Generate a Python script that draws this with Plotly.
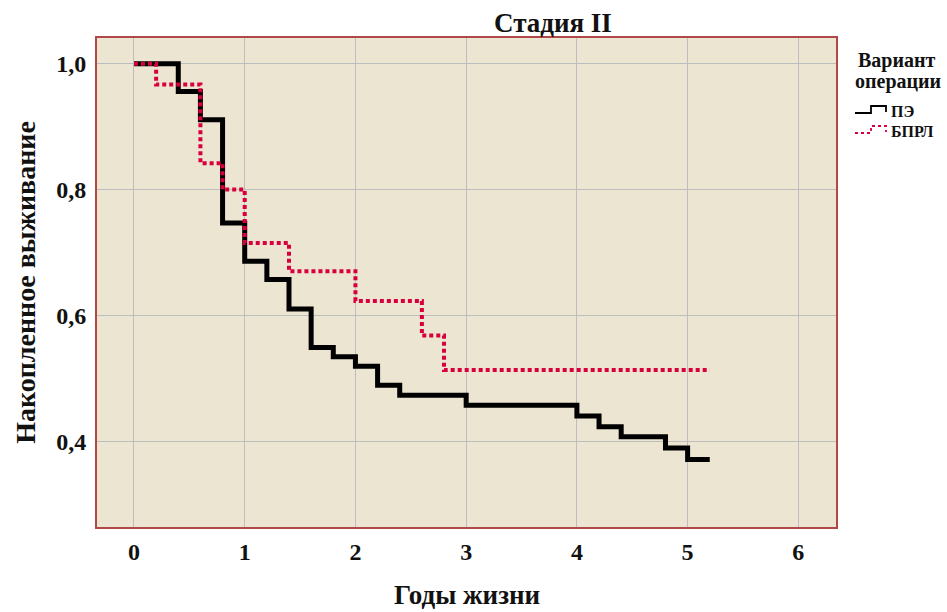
import plotly.graph_objects as go

# Kaplan-Meier data
pe_years = [0, 0.4, 0.6, 0.8, 1.0, 1.2, 1.4, 1.6, 1.8, 2.0, 2.2, 2.4, 3.0, 4.0, 4.2, 4.4, 4.8, 5.0, 5.2]
pe_surv = [1.0, 0.956, 0.911, 0.747, 0.686, 0.657, 0.610, 0.549, 0.534, 0.519, 0.489, 0.473, 0.457,
           0.440, 0.423, 0.407, 0.389, 0.371, 0.371]

bprl_years = [0, 0.2, 0.6, 0.8, 1.0, 1.4, 2.0, 2.6, 2.8, 5.2]
bprl_surv = [1.0, 0.967, 0.842, 0.800, 0.715, 0.670, 0.623, 0.568, 0.513, 0.513]

series_names = ["ПЭ", "БПРЛ"]
x_ticks = [0, 1, 2, 3, 4, 5, 6]
y_ticks = [0.4, 0.6, 0.8, 1.0]
y_tick_labels = ["0,4", "0,6", "0,8", "1,0"]

FONT = "Liberation Serif"
INK = "#111111"
BLACK = "#000000"
RED = "#D8003C"

# plot area at x 97..836, y 38..527 of the 947x612 page (body margin removed in post_script)
W, H = 947, 612
L, R, T, B = 97, 111, 38, 85
PW, PH = W - L - R, H - T - B


def px_x(px):
    return (px - L) / PW


def px_y(py):
    return (H - B - py) / PH


fig = go.Figure()
fig.add_trace(go.Scatter(x=pe_years, y=pe_surv, mode="lines", name=series_names[0], showlegend=False,
                         line=dict(color=BLACK, width=5, shape="hv")))
fig.add_trace(go.Scatter(x=bprl_years, y=bprl_surv, mode="lines", name=series_names[1], showlegend=False,
                         line=dict(color=RED, width=4, shape="hv", dash="4px,3px")))

annotations = [
    dict(text="<b>Стадия II</b>", x=px_x(553), y=px_y(23), xanchor="center", yanchor="middle",
         font=dict(family=FONT, size=27, color=INK)),
    dict(text="<b>Вариант</b>", x=px_x(897), y=px_y(61), xanchor="center", yanchor="middle",
         font=dict(family=FONT, size=20, color=INK)),
    dict(text="<b>операции</b>", x=px_x(898), y=px_y(81), xanchor="center", yanchor="middle",
         font=dict(family=FONT, size=20, color=INK)),
    dict(text="<b>Годы жизни</b>", x=px_x(467), y=px_y(595), xanchor="center", yanchor="middle",
         font=dict(family=FONT, size=27, color=INK)),
]
shapes = []
# legend: step-shaped symbols + labels
for i, (name, col, dash) in enumerate([(series_names[0], BLACK, "solid"), (series_names[1], RED, "dot")]):
    yc = 111 + 20 * i
    yb, yt = yc + 2, yc - 5
    path = (f"M {px_x(855)} {px_y(yb)} L {px_x(871)} {px_y(yb)} L {px_x(871)} {px_y(yt)} "
            f"L {px_x(886)} {px_y(yt)} L {px_x(886)} {px_y(yb - 1)}")
    shapes.append(dict(type="path", xref="paper", yref="paper", path=path,
                       line=dict(color=col, width=1.8, dash=dash)))
    annotations.append(dict(text=f"<b>{name}</b>", x=px_x(889), y=px_y(yc), xanchor="left", yanchor="middle",
                            font=dict(family=FONT, size=16, color=INK)))
for a in annotations:
    a.update(xref="paper", yref="paper", showarrow=False)

fig.update_layout(
    template="none",
    width=W, height=H,
    margin=dict(l=L, r=R, t=T, b=B, autoexpand=False),
    paper_bgcolor="white",
    plot_bgcolor="#ECE5D1",
    font=dict(family=FONT, color=INK),
    showlegend=False,
    annotations=annotations,
    shapes=shapes,
)

fig.update_xaxes(
    range=[-0.334, 6.34], tickvals=x_ticks, ticktext=[str(v) for v in x_ticks],
    showgrid=True, gridcolor="#BDBDBD", gridwidth=1, zeroline=False, automargin=False,
    showline=True, linecolor="#B04848", linewidth=2, mirror=True,
    ticks="outside", ticklen=2, tickcolor="rgba(0,0,0,0)",
    tickfont=dict(family=FONT, size=24, color=INK, weight="bold"),
)
fig.update_yaxes(
    range=[0.2635, 1.041], tickvals=y_ticks, ticktext=y_tick_labels,
    showgrid=True, gridcolor="#BDBDBD", gridwidth=1, zeroline=False, automargin=False,
    showline=True, linecolor="#B04848", linewidth=2, mirror=True,
    ticks="outside", ticklen=4, tickcolor="rgba(0,0,0,0)",
    tickfont=dict(family=FONT, size=24, color=INK, weight="bold"),
    title=dict(text="<b>Накопленное выживание</b>", font=dict(family=FONT, size=28, color=INK), standoff=12),
)

fig.write_html("out.html", config={"displayModeBar": False},
               post_script="document.body.style.margin='0';document.body.style.overflow='hidden';")
